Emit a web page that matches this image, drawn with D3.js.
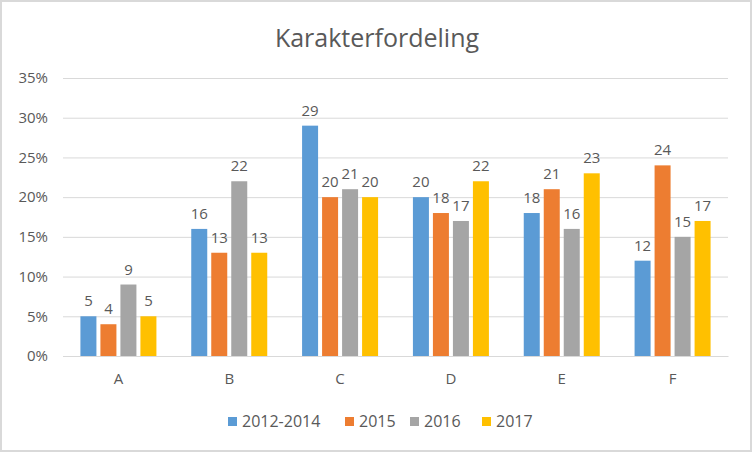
<!DOCTYPE html>
<html><head><meta charset="utf-8">
<script src="https://cdn.jsdelivr.net/npm/d3@7"></script>
<style>body{margin:0;background:#fff}svg{display:block}text{font-family:"Open Sans",sans-serif;fill:#595959}</style>
</head><body><svg id="c" width="752" height="452"></svg>
<script>
const categories = ["A","B","C","D","E","F"];
const seriesNames = ["2012-2014","2015","2016","2017"];
const colors = ["#5B9BD5","#ED7D31","#A5A5A5","#FFC000"];
const s2012_2014 = [5,16,29,20,18,12];
const s2015 = [4,13,20,18,21,24];
const s2016 = [9,22,21,17,16,15];
const s2017 = [5,13,20,22,23,17];
const yTicks = [0,5,10,15,20,25,30,35];
const title = "Karakterfordeling";

const series = [s2012_2014, s2015, s2016, s2017];
const svg = d3.select("#c");
svg.append("rect").attr("x",1).attr("y",1).attr("width",750).attr("height",450).attr("fill","#fff").attr("stroke","#D9D9D9").attr("stroke-width",2);

const m = {l:63, r:728, t:78, b:356};
const x = d3.scaleBand().domain(categories).range([m.l,m.r]);
const xs = d3.scaleBand().domain(seriesNames).range([0,80]).paddingInner(0.2).paddingOuter(0.1);
const y = d3.scaleLinear().domain([0,35]).range([m.b,m.t]);

svg.append("text").attr("x",377).attr("y",47).attr("text-anchor","middle").style("font-size","25px").text(title);

const ya = svg.append("g").attr("transform",`translate(${m.l},0)`)
  .call(d3.axisLeft(y).tickValues(yTicks).tickSize(-(m.r-m.l)).tickFormat(d=>d+"%").tickPadding(15));
ya.select(".domain").remove();
ya.selectAll("line").attr("stroke","#D9D9D9");
ya.selectAll("text").style("font-size","15px").attr("fill","#595959");

const xa = svg.append("g").attr("transform",`translate(0,${m.b})`).call(d3.axisBottom(x).tickSize(0).tickPadding(17));
xa.select(".domain").attr("stroke","#D9D9D9");
xa.selectAll("text").style("font-size","15px").attr("fill","#595959");

const off = (x.bandwidth()-80)/2;
series.forEach((vals,si)=>{
  const g = svg.append("g");
  g.selectAll("rect").data(vals).join("rect")
    .attr("x",(d,i)=>x(categories[i])+off+xs(seriesNames[si]))
    .attr("width",xs.bandwidth())
    .attr("y",d=>y(d)).attr("height",d=>y(0)-y(d)).attr("fill",colors[si]);
  g.selectAll("text").data(vals).join("text")
    .attr("x",(d,i)=>x(categories[i])+off+xs(seriesNames[si])+xs.bandwidth()/2)
    .attr("y",d=>y(d)-10).attr("text-anchor","middle").style("font-size","15px").text(d=>d);
});

const legX = [228,345,410,482];
const lg = svg.append("g");
seriesNames.forEach((n,i)=>{
  lg.append("rect").attr("x",legX[i]).attr("y",417).attr("width",9).attr("height",9).attr("fill",colors[i]);
  lg.append("text").attr("x",legX[i]+14).attr("y",427).style("font-size","16px").text(n);
});
</script></body></html>
